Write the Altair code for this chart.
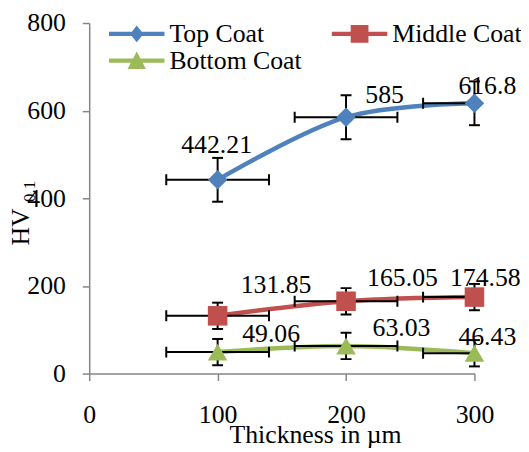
import altair as alt
import pandas as pd

# ---- data ----
thickness = [100, 200, 300]
series = ["Top Coat", "Middle Coat", "Bottom Coat"]
top_hv = [442.21, 585, 616.8]
middle_hv = [131.85, 165.05, 174.58]
bottom_hv = [49.06, 63.03, 46.43]
top_err = [50, 50, 50]
middle_err = [30, 30, 30]
bottom_err = [30, 30, 30]
x_err = [40, 40, 40]
y_ticks = [0, 200, 400, 600, 800]
x_ticks = [0, 100, 200, 300]

colors = ["#4F81BD", "#C0504D", "#9BBB59"]
FONT = "Liberation Serif"

rows = []
for s, vals, errs in zip(series, [top_hv, middle_hv, bottom_hv], [top_err, middle_err, bottom_err]):
    for j, (x, v, e, xe) in enumerate(zip(thickness, vals, errs, x_err)):
        rows.append(dict(series=s, x=x, hv=v, yerr=e, xerr=xe, label=f"{v:g}", idx=j))
df = pd.DataFrame(rows)

# label offsets (pixels) per series, per point
label_offsets = {
    "Top Coat": [(-1, -35), (39, -22), (13, -17)],
    "Middle Coat": [(59, -31), (57, -23), (11, -19)],
    "Bottom Coat": [(54, -18), (56, -18), (13, -16)],
}

xscale = alt.Scale(domain=[0, 300], nice=False)
yscale = alt.Scale(domain=[0, 800], nice=False)
xaxis = alt.Axis(values=x_ticks, labelPadding=21, title="Thickness in µm", titleX=228, titleY=70,
                 titleAlign="center", titleBaseline="alphabetic", labelFlush=False, labelOverlap=False)
yaxis = alt.Axis(values=y_ticks, labelPadding=17, title="HV", titleAngle=270, titleX=-61, titleY=205.5,
                 titleAlign="center", titleBaseline="alphabetic", labelOverlap=False)

def X(f):
    return alt.X(f, scale=xscale, axis=xaxis)

def Y(f):
    return alt.Y(f, scale=yscale, axis=yaxis)

color_scale = alt.Scale(domain=series, range=colors)

base = alt.Chart(df)

lines = base.mark_line(interpolate="cardinal", strokeWidth=4.5, strokeCap="round").encode(
    x=X("x:Q"), y=Y("hv:Q"),
    color=alt.Color("series:N", scale=color_scale, legend=None),
)

verr = base.transform_calculate(lo="datum.hv - datum.yerr", hi="datum.hv + datum.yerr")
vrule = verr.mark_rule(color="black", strokeWidth=2).encode(x=X("x:Q"), y=Y("lo:Q"), y2="hi:Q")
vcap_lo = verr.mark_tick(orient="horizontal", size=11, thickness=2, color="black", opacity=1).encode(
    x=X("x:Q"), y=Y("lo:Q"))
vcap_hi = verr.mark_tick(orient="horizontal", size=11, thickness=2, color="black", opacity=1).encode(
    x=X("x:Q"), y=Y("hi:Q"))

herr = base.transform_calculate(xlo="datum.x - datum.xerr", xhi="datum.x + datum.xerr")
hrule = herr.mark_rule(color="black", strokeWidth=2, clip=True).encode(x=X("xlo:Q"), x2="xhi:Q", y=Y("hv:Q"))
hcap_lo = herr.mark_tick(orient="vertical", size=11, thickness=2, color="black", opacity=1, clip=True).encode(
    x=X("xlo:Q"), y=Y("hv:Q"))
hcap_hi = herr.mark_tick(orient="vertical", size=11, thickness=2, color="black", opacity=1, clip=True).encode(
    x=X("xhi:Q"), y=Y("hv:Q"))

points = base.mark_point(filled=True, opacity=1, size=390).encode(
    x=X("x:Q"), y=Y("hv:Q"),
    color=alt.Color("series:N", scale=color_scale, legend=None),
    shape=alt.Shape("series:N", scale=alt.Scale(domain=series, range=["diamond", "square", "triangle-up"]),
                    legend=None),
)

# legend symbols: line with marker (legend fills column by column)
legend_order = ["Top Coat", "Bottom Coat", "Middle Coat"]
bar = "M-2,-0.15L2,-0.15L2,0.15L-2,0.15Z"
marker_paths = {
    "Top Coat": "M0,-0.6L0.48,0L0,0.6L-0.48,0Z",
    "Middle Coat": "M-0.64,-0.64L0.64,-0.64L0.64,0.64L-0.64,0.64Z",
    "Bottom Coat": "M0,-0.66L0.66,0.6L-0.66,0.6Z",
}
legend_paths = [bar + marker_paths[s] for s in legend_order]
legend_colors = [colors[series.index(s)] for s in legend_order]
legend = alt.Legend(orient="none", legendX=34, legendY=-3, columns=2, title=None,
                    symbolSize=784, symbolStrokeWidth=0, labelFont=FONT, labelFontSize=26,
                    labelColor="black", labelOffset=19, columnPadding=30, rowPadding=0, padding=0,
                    labelLimit=0)
legend_layer = base.mark_point(filled=True, opacity=1, clip=True).encode(
    x=X("x:Q"), y=alt.value(-3000),
    color=alt.Color("series:N", scale=alt.Scale(domain=legend_order, range=legend_colors), legend=legend),
    shape=alt.Shape("series:N", scale=alt.Scale(domain=legend_order, range=legend_paths), legend=legend),
)

label_layers = []
for s in series:
    for j, x in enumerate(thickness):
        dx, dy = label_offsets[s][j]
        label_layers.append(
            base.transform_filter(f"datum.series == '{s}' && datum.x == {x}").mark_text(
                dx=dx, dy=dy, font=FONT, fontSize=26, align="center", baseline="middle", color="black"
            ).encode(x=X("x:Q"), y=Y("hv:Q"), text="label:N")
        )

sub = alt.Chart(pd.DataFrame({"sub": ["0.1"]})).mark_text(
    angle=270, font=FONT, fontSize=17, align="center", baseline="alphabetic", color="black"
).encode(x=alt.value(-55), y=alt.value(170), text="sub:N")

chart = alt.layer(
    lines, vrule, vcap_lo, vcap_hi, hrule, hcap_lo, hcap_hi, points, legend_layer, *label_layers, sub
).resolve_scale(
    color="independent", shape="independent"
).properties(
    width=389, height=354,
    padding={"left": 82, "top": 13, "right": 47, "bottom": 76},
    autosize=alt.AutoSizeParams(type="none"),
).configure_view(stroke=None).configure_axis(
    domainColor="#868686", domainWidth=1.5, tickColor="#868686", tickWidth=1.5, tickSize=7,
    grid=False, labelFont=FONT, labelFontSize=26, labelColor="black",
    titleFont=FONT, titleFontSize=26, titleColor="black", titleFontWeight="normal",
)

chart.save("out.html", embed_options={"renderer": "svg", "actions": False})
